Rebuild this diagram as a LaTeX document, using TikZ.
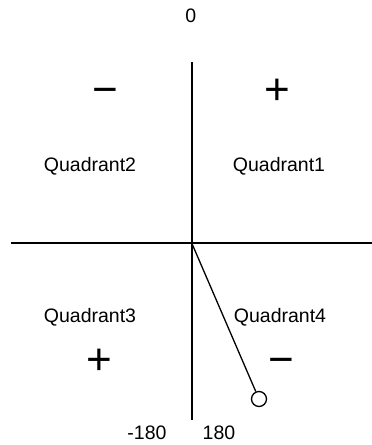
\documentclass[tikz,border=0pt]{standalone}
\usepackage{fontspec}
\setmainfont{Liberation Sans}
\begin{document}
\begin{tikzpicture}[x=1pt,y=-1pt,
  lbl/.style={inner sep=0pt,font=\fontsize{19.5}{20}\selectfont},
  sign/.style={inner sep=0pt,font=\fontsize{44}{44}\selectfont},
  axis/.style={line width=2pt},
  rod/.style={line width=1.3pt}]
\useasboundingbox (0,0) rectangle (372,445);
\coordinate (vtop) at (191.5,62);
\coordinate (vbot) at (191.5,420);
\coordinate (hl) at (11,242.5);
\coordinate (hr) at (372,242.5);
\coordinate (pivot) at (191.5,242.5);
\draw[axis] (vtop) -- (vbot);
\draw[axis] (hl) -- (hr);
\node[circle,draw,line width=1.3pt,minimum size=15pt,inner sep=0pt,fill=white] (bob) at (259,399) {};
\draw[rod] (pivot) -- (bob);
\node[lbl] (zero) at (190.7,16) {0};
\node[lbl] (q2) at (90,166) {Quadrant2};
\node[lbl] (q1) at (279,166) {Quadrant1};
\node[lbl] (q3) at (90,317) {Quadrant3};
\node[lbl] (q4) at (280,317) {Quadrant4};
\node[lbl] (m180) at (147,433) {-180};
\node[lbl] (p180) at (219,433) {180};
\node[sign,anchor=base] (s2) at (105,104) {−};
\node[sign,anchor=base] (s1) at (277,104) {+};
\node[sign,anchor=base] (s3) at (99.3,374) {+};
\node[sign,anchor=base] (s4) at (281,374) {−};
\end{tikzpicture}
\end{document}
